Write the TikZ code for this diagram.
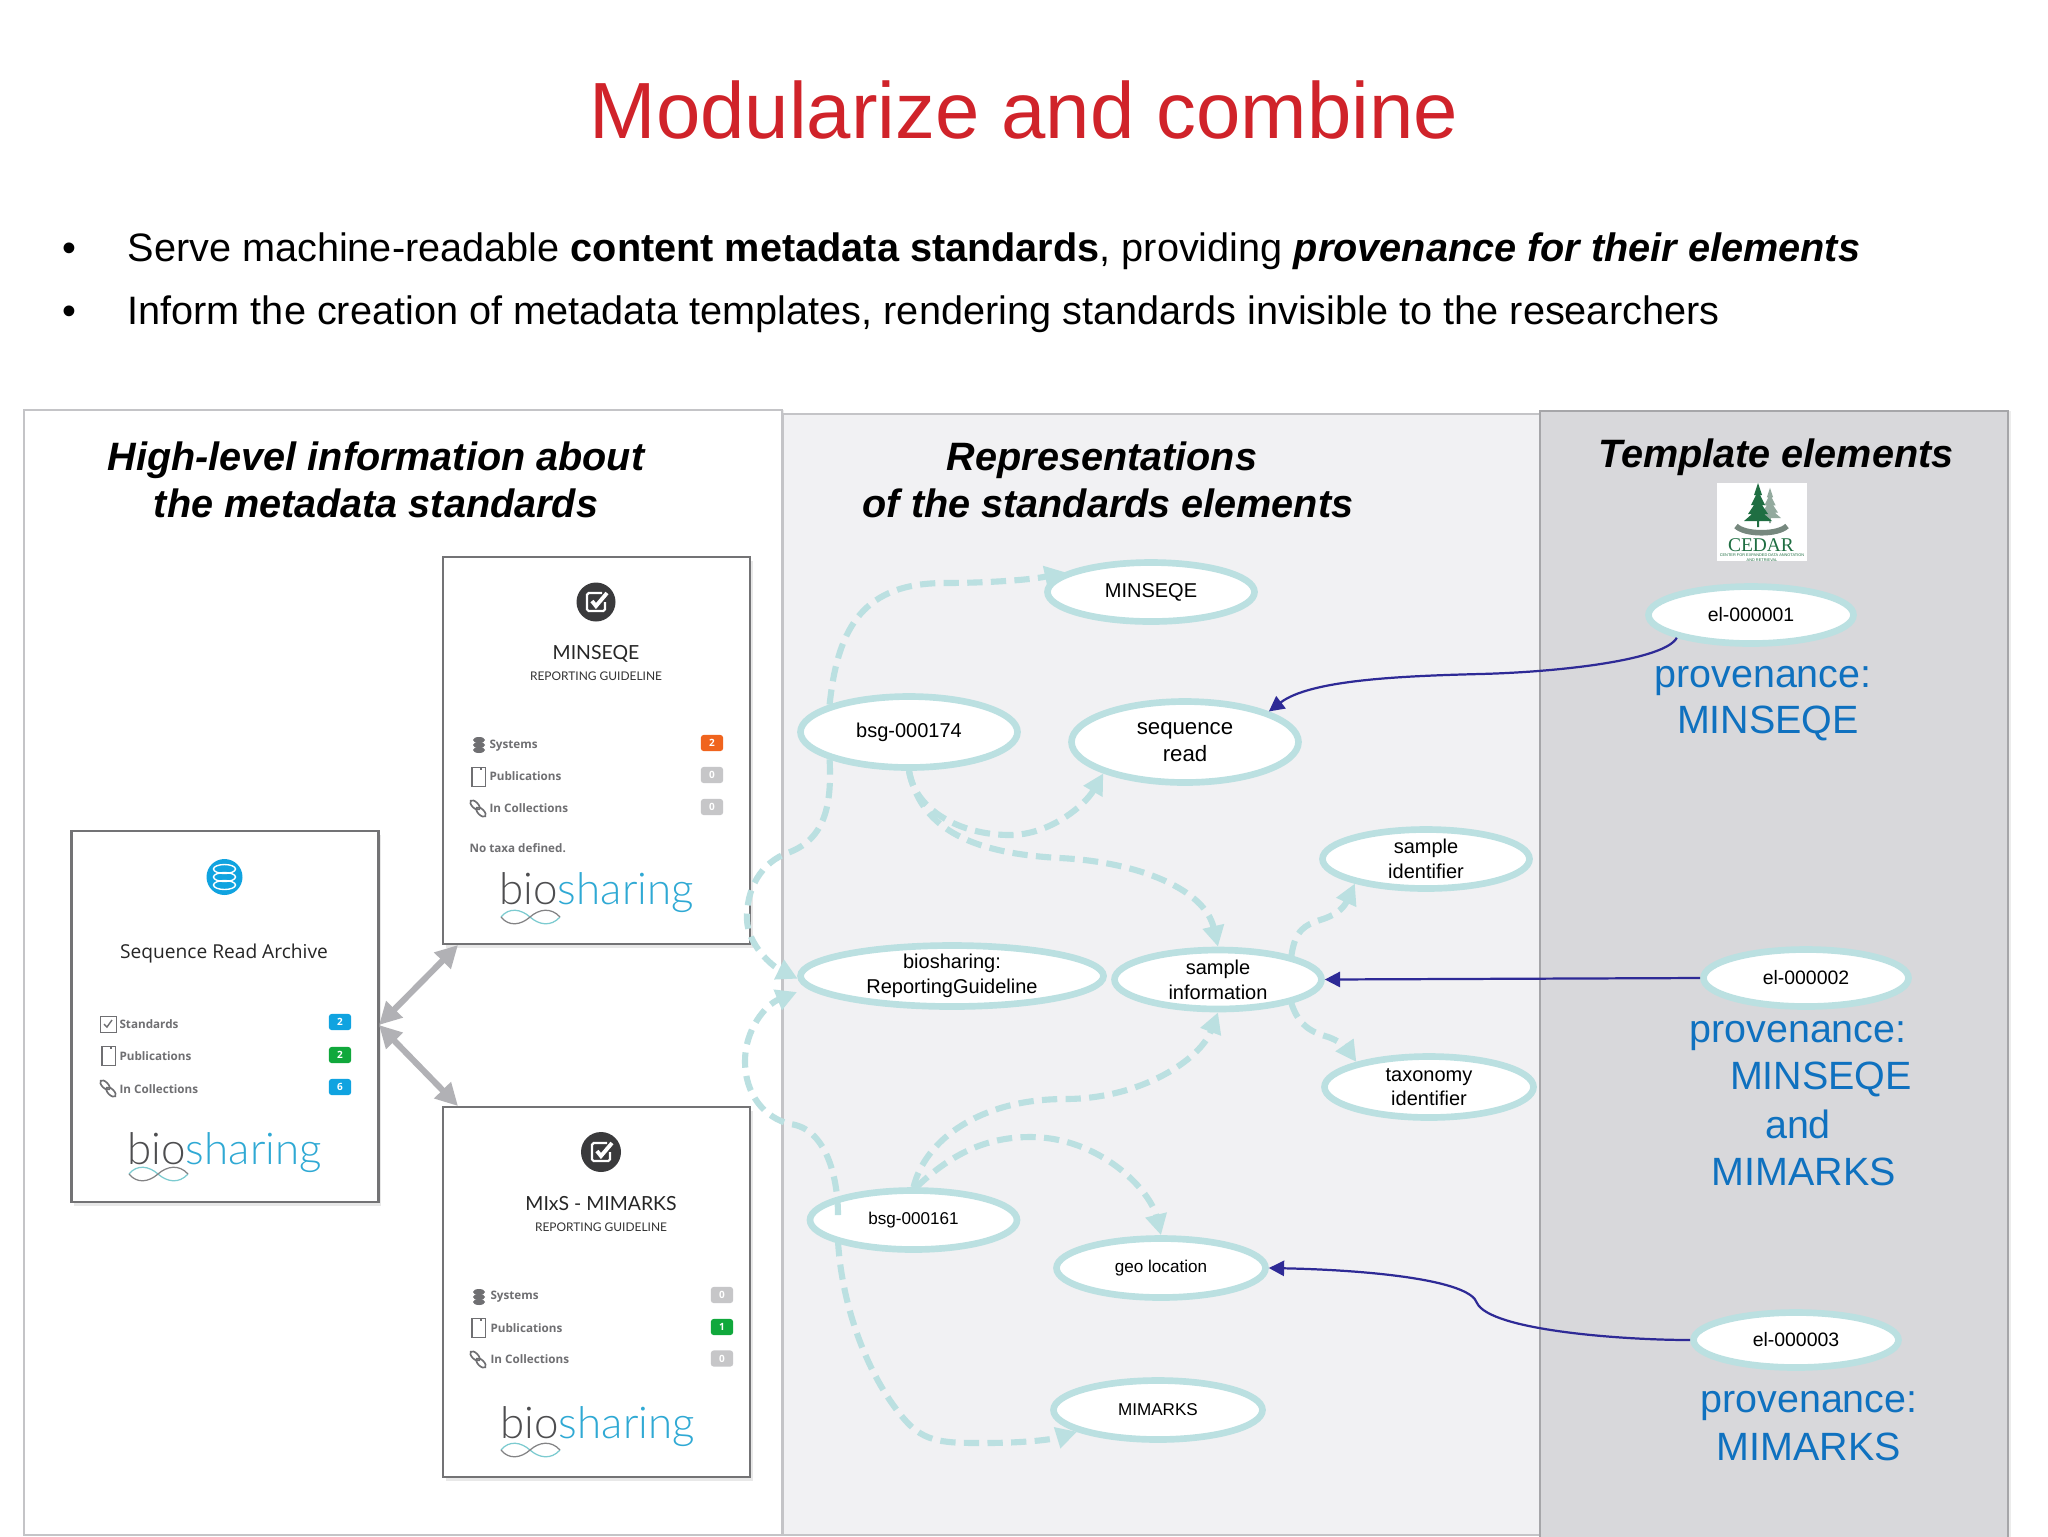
\documentclass[tikz,border=0pt]{standalone}
\usepackage{fontspec}
\setmainfont{Liberation Sans}
\newfontfamily\cardfont{Open Sans}
\newfontfamily\latofont{Lato}
\newfontfamily\logofont{Lato Light}
\newfontfamily\cedarfont{Liberation Serif}
\usetikzlibrary{arrows.meta,shapes.geometric,shadows}
\definecolor{titlered}{HTML}{D0232A}
\definecolor{panelline}{HTML}{C4C4C7}
\definecolor{midfill}{HTML}{F1F1F3}
\definecolor{rightfill}{HTML}{D8D8DB}
\definecolor{rightline}{HTML}{A6A6A9}
\definecolor{cardline}{HTML}{737375}
\definecolor{ellc}{HTML}{BBE0E1}
\definecolor{navy}{HTML}{2E2A96}
\definecolor{provblue}{HTML}{0F71BF}
\definecolor{arrowgrey}{HTML}{B1B1B5}
\definecolor{rowgrey}{HTML}{6F6F72}
\definecolor{badgegrey}{HTML}{C6C6C8}
\definecolor{badgeorange}{HTML}{F0641E}
\definecolor{badgegreen}{HTML}{10A83C}
\definecolor{badgeblue}{HTML}{10A3E0}
\definecolor{logoblue}{HTML}{2FA9D4}
\definecolor{logodark}{HTML}{4E4E50}
\definecolor{infteal}{HTML}{7CCBD0}
\definecolor{iconbg}{HTML}{3A3A3C}
\definecolor{cedargreen}{HTML}{1F6E42}
\definecolor{cedargrey}{HTML}{93AA9E}
\tikzset{
  ell/.style 2 args={ellipse,draw=ellc,fill=white,line width=2.4pt,inner sep=-4pt,
    minimum width=(2*#1-5)*.36pt,minimum height=(2*#2-5)*.36pt,align=center},
  e20/.style={font=\fontsize{7.2}{8.9}\selectfont},
  e22/.style={font=\fontsize{8}{9.8}\selectfont},
  e17/.style={font=\fontsize{6.15}{7.4}\selectfont},
  e19/.style={font=\fontsize{7}{8.4}\selectfont},
  head/.style={font=\fontsize{14.25}{17}\selectfont\bfseries\itshape,anchor=base},
  prov/.style={font=\fontsize{14.2}{17}\selectfont,text=provblue,anchor=base},
  bodyt/.style={font=\fontsize{14.28}{17}\selectfont,anchor=base west,inner sep=0pt},
  card/.style={rectangle,draw=cardline,fill=white,line width=1pt,inner sep=0pt,
    drop shadow={opacity=.18,shadow xshift=1pt,shadow yshift=-1.5pt}},
  dashc/.style={draw=ellc,line width=2.2pt,dash pattern=on 5.5pt off 3pt,
    -{Triangle[length=7.5pt,width=7.5pt]}},
  navyc/.style={draw=navy,line width=.8pt,-{Triangle[length=5.5pt,width=5.5pt]}},
  greyc/.style={draw=arrowgrey,line width=2.2pt,{Triangle[length=8pt,width=8pt]}-{Triangle[length=8pt,width=8pt]}},
  rowt/.style={font=\cardfont\bfseries\fontsize{4.2}{5}\selectfont,text=rowgrey,anchor=west,inner sep=0pt},
  badge/.style={rectangle,rounded corners=1pt,fill=#1,text=white,minimum width=8pt,minimum height=5.8pt,
    inner sep=0pt,font=\cardfont\bfseries\fontsize{3.6}{4}\selectfont},
  logo/.style={font=\logofont\fontsize{15.8}{18}\selectfont,anchor=base west,inner sep=0pt},
  latot/.style={font=\latofont\fontsize{7}{9}\selectfont,text=black!85},
  subt/.style={font=\latofont\fontsize{4.3}{5}\selectfont,text=black!80},
  inflogo/.pic={
    \draw[infteal,line width=.45pt] (0,0) .. controls (8,-10) and (20,-8) .. (29,0) .. controls (38,8) and (50,10) .. (59,0);
    \draw[logodark!70,line width=.45pt] (59,0) .. controls (50,-10) and (38,-8) .. (29,0) .. controls (20,8) and (8,10) .. (0,0);
  },
  chkicon/.pic={
    \draw[white,line width=.8pt,rounded corners=.6pt] (6,-9) -- (-9,-9) -- (-9,9) -- (9,9) -- (9,0);
    \draw[white,line width=1.4pt] (-4,-1) -- (0,4) -- (11,-9);
  },
  dbicon/.pic={
    \foreach \yy in {-5,0,5}
      \fill[rowgrey] (0,\yy) ellipse (6 and 3);
  },
  pubicon/.pic={
    \draw[rowgrey,line width=.3pt,fill=white] (-7,-9) rectangle (7,10);
    \fill[rowgrey] (-7,-9) rectangle (-5,10);
    \fill[rowgrey] (2,-9) rectangle (4,-6);
  },
  linkicon/.pic={
    \draw[rowgrey,line width=.6pt,rotate around={-45:(-3,-3)}] (-3,-3) ellipse (6 and 3);
    \draw[rowgrey,line width=.6pt,rotate around={-45:(3,4)}] (3,4) ellipse (6 and 3);
  },
  tickicon/.pic={
    \draw[rowgrey,line width=.35pt] (-8,-8) rectangle (8,8);
    \draw[rowgrey,line width=.5pt] (-4,0) -- (-1,3) -- (4,-4);
  },
  firtree/.pic={
    \fill (0,-44) -- (4,-32) -- (2,-32) -- (7,-22) -- (4,-22) -- (10,-13) -- (6,-13) -- (14,-6) -- (1,-6) -- (1,0)
      -- (-1,0) -- (-1,-6) -- (-14,-6) -- (-6,-13) -- (-10,-13) -- (-4,-22) -- (-7,-22) -- (-2,-32) -- (-4,-32) -- cycle;
  },
}
\begin{document}
\begin{tikzpicture}[x=.36pt,y=-.36pt]
\path[use as bounding box] (0,0) rectangle (2048,1536);
\clip (0,0) rectangle (2048,1536);
\fill[white] (0,0) rectangle (2048,1536);

% title and bullets
\node[font=\fontsize{28.7}{33}\selectfont,text=titlered,anchor=base] (title) at (1024,138) {Modularize and combine};
\node[font=\fontsize{14.28}{17}\selectfont,anchor=base] (dot1) at (69,261) {•};
\node[font=\fontsize{14.28}{17}\selectfont,anchor=base] (dot2) at (69,324) {•};
\node[bodyt] (line1) at (127,261)
  {Serve machine-readable \textbf{content metadata standards}, providing \textbf{\textit{provenance for their elements}}};
\node[bodyt] (line2) at (127,324)
  {Inform the creation of metadata templates, rendering standards invisible to the researchers};

% panels
\draw[panelline,line width=1pt,fill=white,drop shadow={opacity=.15,shadow xshift=.8pt,shadow yshift=0pt}] (24,410) rectangle (782,1535);
\draw[panelline,line width=1pt,fill=midfill,drop shadow={opacity=.15,shadow xshift=.8pt,shadow yshift=0pt}] (783,414) rectangle (1540,1535);
\draw[rightline,line width=1pt,fill=rightfill,drop shadow={opacity=.15,shadow xshift=1pt,shadow yshift=0pt}] (1540,411) rectangle (2008,1545);

\node[head] (h1a) at (376,470) {High-level information about};
\node[head] (h1b) at (376,517) {the metadata standards};
\node[head] (h2a) at (1102,470) {Representations};
\node[head] (h2b) at (1108,517) {of the standards elements};
\node[head] (h3) at (1776,467) {Template elements};

% CEDAR logo
\fill[white] (1717,483) rectangle (1807,561);
\pic[cedargrey,scale=.8] at (1770,523) {firtree};
\pic[cedargreen] at (1758,527) {firtree};
\draw[cedargrey!80!black,line width=2pt] (1736,526) .. controls (1745,535) and (1778,535) .. (1787,526);
\node[font=\cedarfont\fontsize{7}{8}\selectfont,text=cedargreen,inner sep=0pt] (cedar) at (1761,545) {CEDAR};
\node[font=\fontsize{1.4}{1.7}\selectfont,text=cedargreen,inner sep=0pt,align=center] (cedarsub) at (1762,557.5)
  {CENTER FOR EXPANDED DATA ANNOTATION\\AND RETRIEVAL};

% cards
\node[card,minimum width=307*.36pt,minimum height=371*.36pt] (sra) at (225,1016.5) {};
\node[card,minimum width=307*.36pt,minimum height=387*.36pt] (minc) at (596.5,750.5) {};
\node[card,minimum width=307*.36pt,minimum height=370*.36pt] (mimc) at (596.5,1292) {};

% card: Sequence Read Archive
\fill[badgeblue] (224.5,877) circle (18);
\foreach \yy in {-8,0,8} \draw[white,line width=.5pt] (224.5,877+\yy) ellipse (11 and 4.5);
\node[font=\cardfont\fontsize{6.9}{9}\selectfont,text=black!85,inner sep=0pt] (srat) at (224,953) {Sequence Read Archive};
\pic at (108,1024) {tickicon};
\pic at (108,1055) {pubicon};
\pic at (108,1088) {linkicon};
\node[rowt] (srar1) at (119,1024) {Standards};
\node[rowt] (srar2) at (119,1056) {Publications};
\node[rowt] (srar3) at (119,1089) {In Collections};
\node[badge=badgeblue] (srab1) at (340,1022) {2};
\node[badge=badgegreen] (srab2) at (340,1055) {2};
\node[badge=badgeblue] (srab3) at (340,1087) {6};
\node[logo] (sral) at (127,1164) {\textcolor{logodark}{bio}\textcolor{logoblue}{sharing}};
\pic at (129,1174) {inflogo};

% card: MINSEQE
\fill[iconbg] (596,602) circle (19.5);
\pic at (596,602) {chkicon};
\node[latot,inner sep=0pt] (mint) at (596,654) {MINSEQE};
\node[subt,inner sep=0pt] (mins) at (596,676) {REPORTING GUIDELINE};
\pic at (479,745) {dbicon};
\pic at (478,776) {pubicon};
\pic at (478,808) {linkicon};
\node[rowt] (minr1) at (489,746) {Systems};
\node[rowt] (minr2) at (489,776) {Publications};
\node[rowt] (minr3) at (489,808) {In Collections};
\node[rowt] (minr4) at (469,848.5) {No taxa defined.};
\node[badge=badgeorange] (minb1) at (712,743) {2};
\node[badge=badgegrey] (minb2) at (712,775) {0};
\node[badge=badgegrey] (minb3) at (712,807) {0};
\node[logo] (minl) at (499,904) {\textcolor{logodark}{bio}\textcolor{logoblue}{sharing}};
\pic at (501,917) {inflogo};

% card: MIMARKS
\fill[iconbg] (601,1152) circle (20);
\pic at (601,1152) {chkicon};
\node[latot,inner sep=0pt] (mimt) at (601,1204) {MIxS - MIMARKS};
\node[subt,inner sep=0pt] (mims) at (601,1227) {REPORTING GUIDELINE};
\pic at (479,1297) {dbicon};
\pic at (478,1327) {pubicon};
\pic at (478,1359) {linkicon};
\node[rowt] (mimr1) at (490,1297) {Systems};
\node[rowt] (mimr2) at (490,1328) {Publications};
\node[rowt] (mimr3) at (490,1359) {In Collections};
\node[badge=badgegrey] (mimb1) at (722,1295) {0};
\node[badge=badgegreen] (mimb2) at (722,1327) {1};
\node[badge=badgegrey] (mimb3) at (722,1358.5) {0};
\node[logo] (miml) at (500,1438) {\textcolor{logodark}{bio}\textcolor{logoblue}{sharing}};
\pic at (501,1450) {inflogo};

% grey arrows between cards
\coordinate (srapt) at (379,1025);
\coordinate (minpt) at (458,945);
\coordinate (mimpt) at (458,1106);
\draw[greyc] (srapt) -- (minpt);
\draw[greyc] (srapt) -- (mimpt);

% ellipses
\node[ell={106}{32},e20] (mns) at (1151,592) {MINSEQE};
\node[ell={111}{38},e20] (b174) at (909,732) {bsg-000174};
\node[ell={116}{43},e22] (seq) at (1185,742) {sequence\\read};
\node[ell={106}{32},e20] (sid) at (1426,859) {sample\\identifier};
\node[ell={154}{33},e20] (bio) at (952,976) {biosharing:\\ReportingGuideline};
\node[ell={106}{32},e20] (sinf) at (1218,979.5) {sample\\information};
\node[ell={107}{33},e20] (tax) at (1429,1087) {taxonomy\\identifier};
\node[ell={106}{32},e17] (b161) at (913.5,1220) {bsg-000161};
\node[ell={107}{32},e17] (geo) at (1161,1268) {geo location};
\node[ell={107}{32},e17] (mim) at (1158,1410) {MIMARKS};
\node[ell={105}{31},e19] (el1) at (1751,615) {el-000001};
\node[ell={105}{31},e19] (el2) at (1806,978) {el-000002};
\node[ell={105}{30},e19] (el3) at (1796,1340) {el-000003};

% provenance labels
\node[prov] (p1a) at (1763,687) {provenance:};
\node[prov] (p1b) at (1768,733) {MINSEQE};
\node[prov] (p2a) at (1798,1042) {provenance:};
\node[prov] (p2b) at (1821,1089) {MINSEQE};
\node[prov] (p2c) at (1798,1138) {and};
\node[prov] (p2d) at (1804,1185) {MIMARKS};
\node[prov] (p3a) at (1809,1412) {provenance:};
\node[prov] (p3b) at (1809,1460) {MIMARKS};

% dashed links between ellipses
\coordinate (b161a) at (838,1215);
\coordinate (b161b) at (838,1241);
\coordinate (biolow) at (797,992);
\draw[dashc] (b174.161) .. controls (838,625) and (865,583) .. (945,583) .. controls (985,583) and (1030,580) .. (mns.167);
\draw[dashc] (b174.199) .. controls (832,805) and (825,838) .. (790,852) .. controls (760,862) and (746,890) .. (747,920)
  .. controls (748,945) and (772,966) .. (bio.181);
\draw[dashc] (b161a) .. controls (838,1175) and (825,1128) .. (790,1124) .. controls (765,1118) and (745,1095) .. (745,1061)
  .. controls (745,1030) and (765,1005) .. (biolow);
\draw[dashc] (b161b) .. controls (842,1310) and (870,1380) .. (905,1420) .. controls (925,1443) and (945,1443) .. (985,1443)
  .. controls (1020,1443) and (1050,1440) .. (mim.195);
\draw[dashc] (b174.270) .. controls (915,810) and (960,835) .. (1010,835) .. controls (1050,835) and (1085,805) .. (seq.201);
\draw[dashc] (b174.270) .. controls (920,825) and (965,853) .. (1060,858) .. controls (1140,862) and (1205,890) .. (sinf.90);
\draw[dashc] (b161.90) .. controls (925,1140) and (980,1099) .. (1065,1099) .. controls (1140,1099) and (1200,1060) .. (sinf.270);
\draw[dashc] (b161.85) .. controls (950,1155) and (985,1137) .. (1030,1137) .. controls (1100,1137) and (1150,1190) .. (geo.90);
\draw[dashc] (sinf.18) .. controls (1295,930) and (1305,925) .. (1320,920) .. controls (1340,914) and (1345,905) .. (sid.199);
\draw[dashc] (sinf.-18) .. controls (1297,1020) and (1305,1030) .. (1325,1036) .. controls (1340,1040) and (1348,1050) .. (tax.161);

% provenance links
\draw[navyc] (el1.197) .. controls (1665,660) and (1560,672) .. (1480,674) .. controls (1400,676) and (1310,680) .. (seq.20);
\draw[navyc] (el2.west) -- (sinf.east);
\draw[navyc] (el3.west) .. controls (1620,1340) and (1490,1330) .. (1477,1303) .. controls (1470,1280) and (1370,1270) .. (geo.east);
\end{tikzpicture}
\end{document}
